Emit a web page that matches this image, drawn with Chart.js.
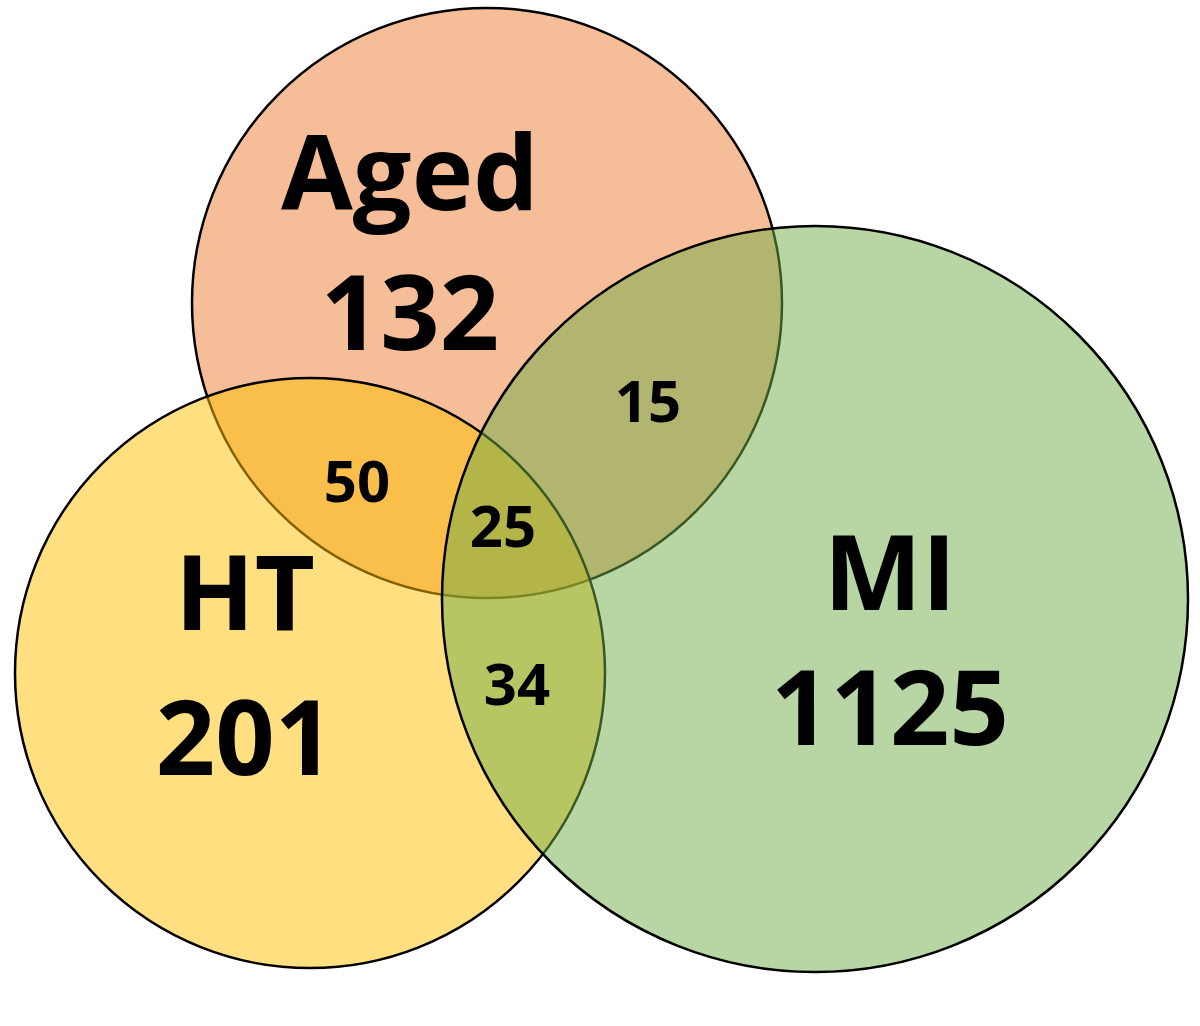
<!DOCTYPE html>
<html><head><meta charset="utf-8">
<script src="https://cdn.jsdelivr.net/npm/chart.js@4/dist/chart.umd.min.js"></script>
<style>html,body{margin:0;padding:0;background:#fff}#w{width:1200px;height:1026px}</style>
</head><body><div id="w"><canvas id="c"></canvas></div>
<script>
const setNames = ["Aged", "HT", "MI"];
const setCounts = [132, 201, 1125];
const centerX = [487, 310, 815];
const centerY = [303, 673, 599];
const radii = [295, 295, 373];
const fills = ["rgba(237,125,49,0.5)", "rgba(255,192,0,0.5)", "rgba(112,173,71,0.5)"];
const nameLabelX = [410, 245, 890];
const nameLabelY = [180, 600, 580];
const countLabelY = [320, 745, 715];
const overlapLabels = ["15", "50", "25", "34"];
const overlapX = [648, 357, 503, 517];
const overlapY = [405, 485, 530, 688];

const textPlugin = {
  id: 'vennText',
  afterDatasetsDraw(chart) {
    const c = chart.ctx, x = chart.scales.x, y = chart.scales.y;
    c.save();
    c.fillStyle = '#000';
    c.textAlign = 'center'; c.textBaseline = 'middle';
    c.font = 'bold 104px "Open Sans", "Liberation Sans", sans-serif';
    setNames.forEach((n, i) => {
      c.fillText(n, x.getPixelForValue(nameLabelX[i]), y.getPixelForValue(nameLabelY[i]));
      c.fillText(String(setCounts[i]), x.getPixelForValue(nameLabelX[i]), y.getPixelForValue(countLabelY[i]));
    });
    c.font = 'bold 58px "Open Sans", "Liberation Sans", sans-serif';
    overlapLabels.forEach((t, i) => c.fillText(t, x.getPixelForValue(overlapX[i]), y.getPixelForValue(overlapY[i])));
    c.restore();
  }
};

// Chart.js draws dataset 0 on top, so list in reverse (MI on top)
const order = [2, 1, 0];
new Chart(document.getElementById('c'), {
  type: 'scatter',
  data: {
    datasets: order.map(i => ({
      label: setNames[i],
      data: [{x: centerX[i], y: centerY[i]}],
      backgroundColor: fills[i],
      borderColor: '#000',
      borderWidth: 2.5,
      pointRadius: ctx => {
        const s = ctx.chart.scales.x;
        return s ? s.getPixelForValue(radii[i]) - s.getPixelForValue(0) : 0;
      },
      pointHoverRadius: ctx => {
        const s = ctx.chart.scales.x;
        return s ? s.getPixelForValue(radii[i]) - s.getPixelForValue(0) : 0;
      }
    }))
  },
  options: {
    responsive: true, maintainAspectRatio: false, animation: false,
    layout: {padding: 0},
    plugins: {legend: {display: false}, tooltip: {enabled: false}},
    scales: {
      x: {type: 'linear', min: 0, max: 1200, display: false},
      y: {type: 'linear', min: 0, max: 1026, reverse: true, display: false}
    }
  },
  plugins: [textPlugin]
});
</script></body></html>
